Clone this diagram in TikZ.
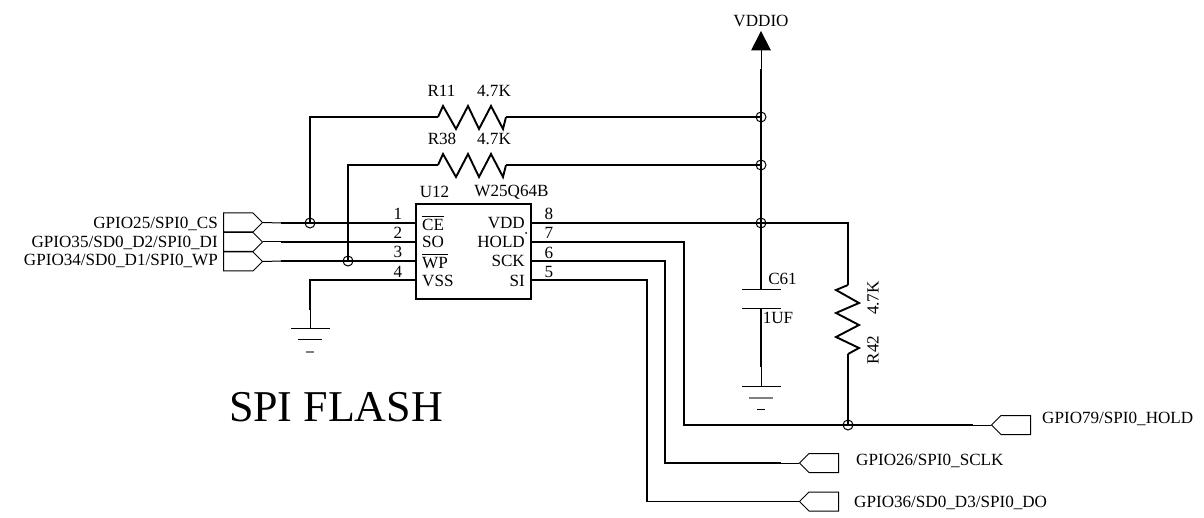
\documentclass[tikz,border=0pt]{standalone}
\usepackage{amsmath}
\usepackage{fontspec}
\setmainfont{Liberation Serif}
\usetikzlibrary{shapes.symbols}

\tikzset{
    wire/.style={line width=1.9pt, line join=miter},
    stub/.style={line width=1pt},
    junction/.style={circle, draw, line width=1pt, minimum size=10pt, inner sep=0pt},
    portto/.style={signal, signal to=#1, draw, line width=1pt, signal pointer angle=90, minimum width=39pt, minimum height=19pt, inner sep=0pt},
    lbl/.style={inner sep=0pt, font=\fontsize{17.1}{19}\selectfont}
}

\begin{document}
\begin{tikzpicture}[x=1pt, y=-1pt]
            \useasboundingbox (0, 0) rectangle (1204, 518);

            % chip
            \node (u12) [draw, line width=1.9pt, minimum width=115pt, minimum height=95pt, inner sep=0pt] at (473.5, 251.5) {};
            \node (u12name) [lbl] at (434.5, 192) {U12};
            \node (u12type) [lbl] at (511.5, 192) {W25Q64B};
            \node (nce) [lbl, anchor=west] at (422, 223) {$\overline{\mbox{CE}}$};
            \node (nso) [lbl, anchor=west] at (422, 242) {SO};
            \node (nwp) [lbl, anchor=west] at (422, 261) {$\overline{\mbox{WP}}$};
            \node (nvss) [lbl, anchor=west] at (422, 281) {VSS};
            \node (nvdd) [lbl, anchor=east] at (525, 223) {VDD};
            \node (nhold) [lbl, anchor=east] at (525, 242) {HOLD};
            \node (nsck) [lbl, anchor=east] at (525, 261) {SCK};
            \node (nsi) [lbl, anchor=east] at (525, 281) {SI};
            \fill (526, 233) circle (1);
            \node (p1) [lbl] at (398, 214) {1};
            \node (p2) [lbl] at (398, 233) {2};
            \node (p3) [lbl] at (398, 252) {3};
            \node (p4) [lbl] at (398, 272) {4};
            \node (p8) [lbl] at (549, 214) {8};
            \node (p7) [lbl] at (549, 233) {7};
            \node (p6) [lbl] at (549, 253) {6};
            \node (p5) [lbl] at (549, 272) {5};

            % pin ends
            \coordinate (pin1) at (416, 223);
            \coordinate (pin2) at (416, 242);
            \coordinate (pin3) at (416, 261);
            \coordinate (pin4) at (416, 280);
            \coordinate (pin8) at (531, 223);
            \coordinate (pin7) at (531, 242);
            \coordinate (pin6) at (531, 261);
            \coordinate (pin5) at (531, 280);

            % ports
            \node (csport) [portto=east, anchor=west] at (223, 222.5) {};
            \node (diport) [portto=east, anchor=west] at (223, 242) {};
            \node (wpport) [portto=east, anchor=west] at (223, 261.5) {};
            \node (holdport) [portto=west, anchor=east] at (1031, 425) {};
            \node (sclkport) [portto=west, anchor=east] at (839, 463) {};
            \node (doport) [portto=west, anchor=east] at (839, 501.5) {};
            \node (cstext) [lbl, anchor=east] at (218, 224) {GPIO25/SPI0\_CS};
            \node (ditext) [lbl, anchor=east] at (218, 243) {GPIO35/SD0\_D2/SPI0\_DI};
            \node (wptext) [lbl, anchor=east] at (218, 261) {GPIO34/SD0\_D1/SPI0\_WP};
            \node (holdtext) [lbl, anchor=west] at (1042, 419) {GPIO79/SPI0\_HOLD};
            \node (sclktext) [lbl, anchor=west] at (856, 461) {GPIO26/SPI0\_SCLK};
            \node (dotext) [lbl, anchor=west] at (854, 503) {GPIO36/SD0\_D3/SPI0\_DO};

            % junctions
            \node (jcs) [junction] at (310, 223) {};
            \node (jwp) [junction] at (348, 261) {};
            \node (jr11) [junction] at (761, 117) {};
            \node (jr38) [junction] at (761, 165) {};
            \node (jvdd) [junction] at (761, 223) {};
            \node (jhold) [junction] at (848, 425) {};

            % left side wires
            \coordinate (csend) at (281, 223);
            \coordinate (diend) at (281, 242);
            \coordinate (wpend) at (281, 261);
            \draw[stub] (csport.east) -- (csend);
            \draw[stub] (diport.east) -- (diend);
            \draw[stub] (wpport.east) -- (wpend);
            \draw[wire] (csend) -- (pin1);
            \draw[wire] (diend) -- (pin2);
            \draw[wire] (wpend) -- (pin3);

            % pull ups
            \coordinate (r11a) at (438, 117);
            \coordinate (r11b) at (506, 117);
            \coordinate (r38a) at (438, 165);
            \coordinate (r38b) at (506, 165);
            \draw[wire] (jcs.center) |- (r11a);
            \draw[wire] (jwp.center) |- (r38a);
            \draw[wire] (r11a) -- (443, 106) -- (456, 129) -- (468, 106) -- (479, 129) -- (491, 106) -- (503, 129) -- (r11b);
            \draw[wire] (r38a) -- (443, 154) -- (456, 177) -- (468, 154) -- (479, 177) -- (491, 154) -- (503, 177) -- (r38b);
            \draw[wire] (r11b) -- (jr11.center);
            \draw[wire] (r38b) -- (jr38.center);
            \node (r11name) [lbl] at (441.5, 91) {R11};
            \node (r11val) [lbl] at (494, 91) {4.7K};
            \node (r38name) [lbl] at (442, 139) {R38};
            \node (r38val) [lbl] at (494, 139) {4.7K};

            % supply
            \node (vddio) [lbl] at (761, 21) {VDDIO};
            \coordinate (tipv) at (761, 31);
            \coordinate (basev) at (761, 50.5);
            \coordinate (railtop) at (761, 69);
            \fill (tipv) -- (771, 50.5) -- (751, 50.5) -- cycle;
            \draw[stub] (basev) -- (railtop);
            \draw[wire] (railtop) -- (jvdd.center);
            \draw[wire] (pin8) -- (jvdd.center);

            % capacitor
            \coordinate (captop) at (761, 290);
            \coordinate (capbot) at (761, 309);
            \coordinate (capend) at (761, 367);
            \coordinate (gnda) at (761, 386);
            \draw[wire, line width=1.5pt] (jvdd.center) -- (captop);
            \draw[stub] (742, 290) -- (781, 290);
            \draw[stub] (742, 309) -- (781, 309);
            \draw[wire, line width=1.5pt] (capbot) -- (capend);
            \draw[stub] (capend) -- (gnda);
            \draw[stub] (742, 386) -- (781, 386);
            \draw[stub, gray, line width=1.5pt] (749, 398) -- (773, 398);
            \draw[stub] (757, 409) -- (765, 409);
            \node (c61name) [lbl] at (782.5, 279) {C61};
            \node (c61val) [lbl] at (778, 318) {1UF};

            % left ground
            \coordinate (gndb) at (310, 329);
            \coordinate (gndmid) at (310, 310);
            \draw[wire] (pin4) -| (gndmid);
            \draw[stub] (gndmid) -- (gndb);
            \draw[stub] (291, 329) -- (330, 329);
            \draw[stub] (298, 340) -- (322, 340);
            \draw[stub, gray, line width=1.5pt] (306, 352) -- (314, 352);

            % R42
            \coordinate (r42a) at (848, 285);
            \coordinate (r42b) at (848, 354);
            \draw[wire, line width=1.5pt] (jvdd.center) -| (r42a);
            \draw[wire] (r42a) -- (836, 290) -- (859, 303) -- (836, 313) -- (859, 325) -- (836, 337) -- (859, 348) -- (r42b);
            \draw[wire, line width=1.5pt] (r42b) -- (jhold.center);
            \node (r42name) [lbl, rotate=90] at (873, 350) {R42};
            \node (r42val) [lbl, rotate=90] at (873, 298) {4.7K};

            % right side wires
            \coordinate (holdend) at (973, 425);
            \coordinate (sclkend) at (781, 463);
            \coordinate (doend) at (781, 501.5);
            \coordinate (holdx) at (684, 425);
            \coordinate (sclkx) at (665, 463);
            \coordinate (dox) at (647, 501.5);
            \draw[wire] (pin7) -| (holdx) -- (holdend);
            \draw[wire] (pin6) -| (sclkx) -- (sclkend);
            \draw[wire] (pin5) -| (dox) -- (doend);
            \draw[stub] (holdend) -- (holdport.west);
            \draw[stub] (sclkend) -- (sclkport.west);
            \draw[stub] (doend) -- (doport.west);

            \node (title) [inner sep=0pt, font=\fontsize{44}{48}\selectfont] at (336, 407) {SPI FLASH};
        \end{tikzpicture}
\end{document}
